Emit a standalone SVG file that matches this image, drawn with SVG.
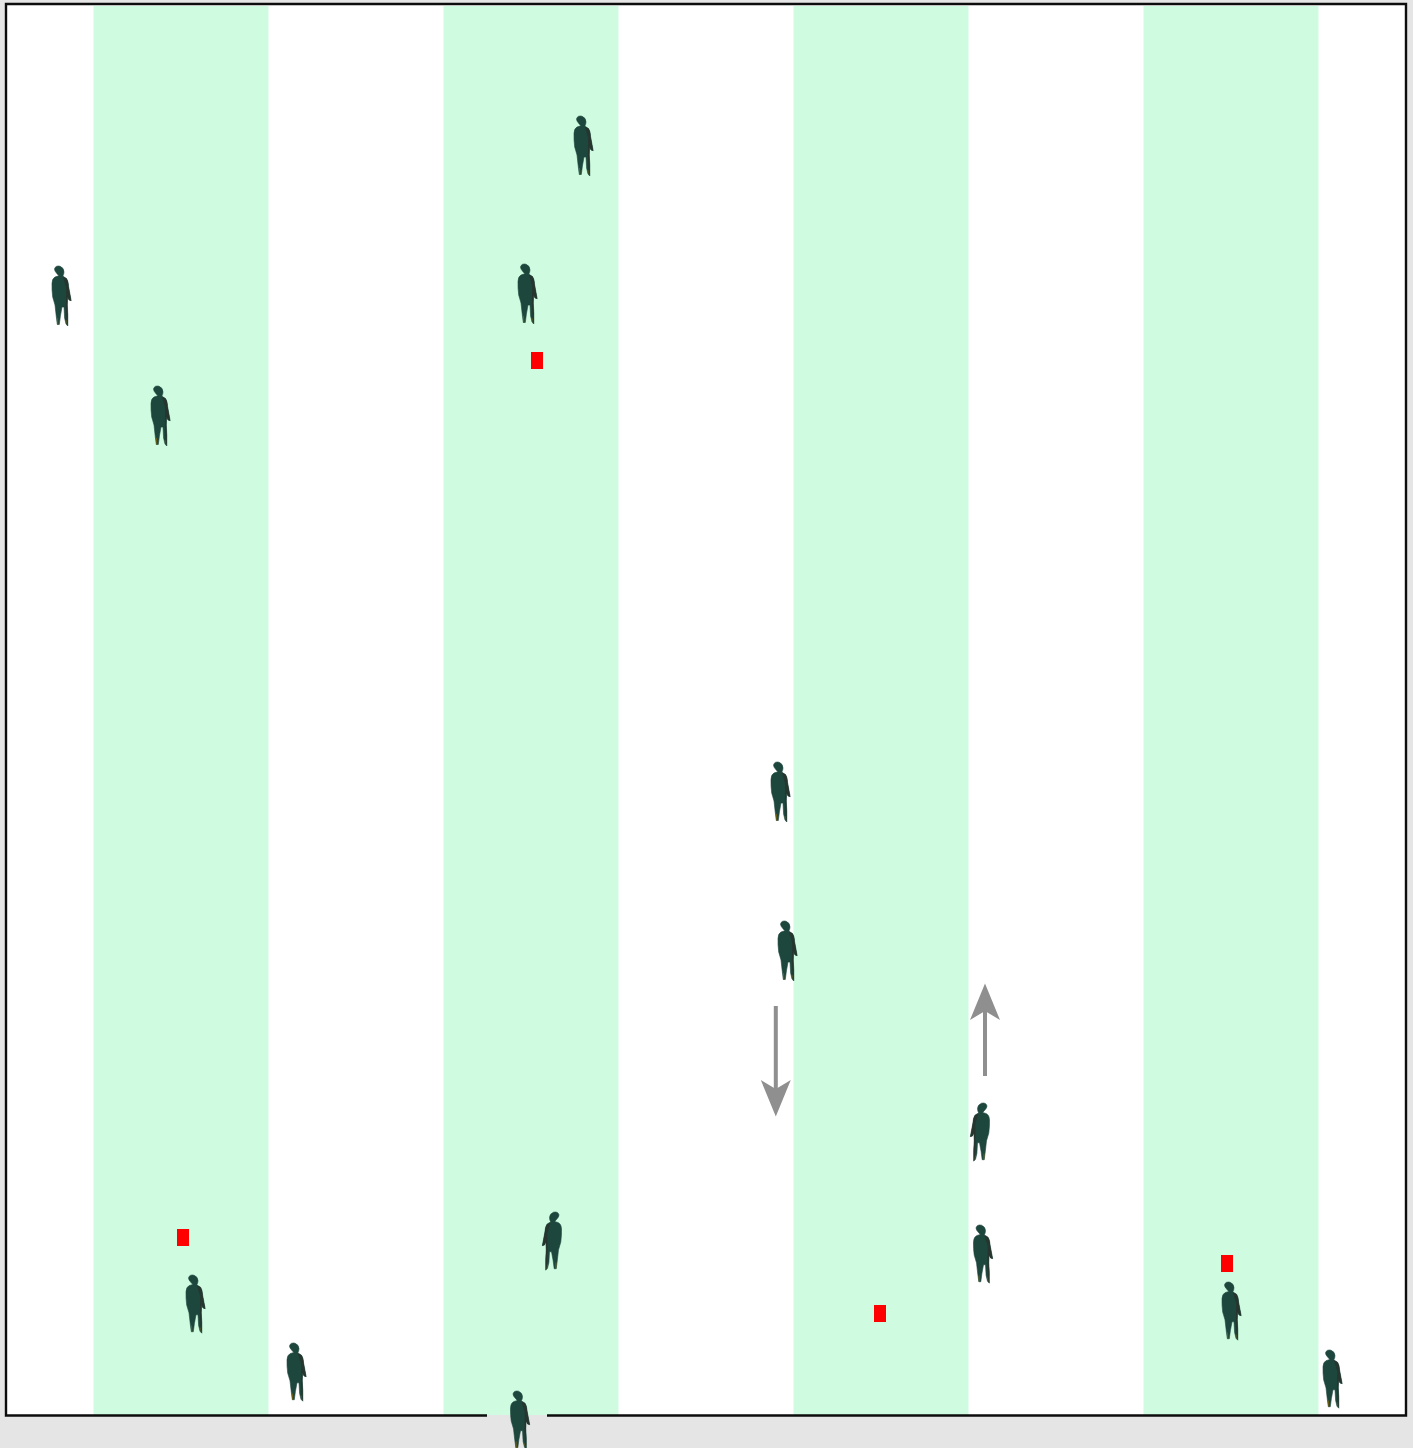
<svg xmlns="http://www.w3.org/2000/svg" width="1413" height="1448" viewBox="0 0 1413 1448">
<style>
.stripe{fill:#cffbe0}
.mark{fill:#fe0000}
.frame{fill:none;stroke:#0c0c0c;stroke-width:2.400}
.flow{fill:none;stroke:#8f8f8f;stroke-width:4;marker-end:url(#head)}
.body{fill:#1d463d;stroke:#1d463d;stroke-width:.6;stroke-linejoin:round}
.shade{fill:#26362e}
.foot{fill:#6a5c12}
</style>
<defs>
<marker id="head" markerUnits="userSpaceOnUse" markerWidth="40" markerHeight="34" refX="15" refY="16" orient="auto" viewBox="0 0 40 34">
<path d="M36.500 16L0 1L9 16L0 31Z" fill="#8f8f8f"/>
</marker>
<g id="person">
<path class="body" d="M2.500 3Q3.500 -.8 8 .2Q12 1.800 12 6Q11.800 8.800 10.800 10.200L14.500 12.500Q16.300 15 16.600 20.700L18 28.300L19.200 34.700L17 34L15.600 31L15.300 39L15.800 49L15.800 60L14 58L12.600 52L12 41L10 41L8.400 50L7.300 58.500L5.300 58.500L4.300 50.700L3 39L.7 31Q-.2 24 0 17.300Q.2 12.500 3 11L6.800 9.700L4.800 7.500Q2.500 5 2.500 3Z"/>
<path class="shade" d="M10.800 10.200L14.500 12.500Q16.300 15 16.600 20.700L18 28.300L19.200 34.700L17 34L15.600 31L15.300 39L15.800 49L15.800 60L14.600 56L13.900 40L14.200 22Z"/>
<path class="foot" d="M5 52L6 52L6.300 58.500L5.300 58.500ZM13.600 54L14.400 54L15 59.500Z"/>
</g>
</defs>
<rect width="1413" height="1448" fill="#e5e5e5"/>
<rect x="6" y="4" width="1400" height="1411" fill="#fff"/>
<g id="stripes">
<rect class="stripe" x="93.500" y="6" width="175" height="1409"/>
<rect class="stripe" x="443.500" y="6" width="175" height="1409"/>
<rect class="stripe" x="793.500" y="6" width="175" height="1409"/>
<rect class="stripe" x="1143.500" y="6" width="175" height="1409"/>
</g>
<path id="frame" class="frame" d="M487 1415.500H6V4H1406V1415.500H547"/>
<g id="markers">
<rect id="mark-1" class="mark" x="531" y="352" width="12" height="17"/>
<rect id="mark-2" class="mark" x="177" y="1229" width="12" height="17"/>
<rect id="mark-3" class="mark" x="874" y="1305" width="12" height="17"/>
<rect id="mark-4" class="mark" x="1221" y="1255" width="12" height="17"/>
</g>
<g id="connectors">
<path class="flow" d="M775.800 1006V1095"/>
<path class="flow" d="M985 1076V1005"/>
</g>
<g id="person-1"><use href="#person" x="52" y="266"/></g>
<g id="person-2"><use href="#person" x="151" y="386"/></g>
<g id="person-3"><use href="#person" x="574" y="116"/></g>
<g id="person-4"><use href="#person" x="518" y="264"/></g>
<g id="person-5"><use href="#person" x="771" y="762"/></g>
<g id="person-6"><use href="#person" x="778" y="921"/></g>
<g id="person-7"><use href="#person" transform="translate(989.500 1103) scale(-1 .97)"/></g>
<g id="person-8"><use href="#person" transform="translate(973.500 1225) scale(1 .97)"/></g>
<g id="person-9"><use href="#person" transform="translate(561.500 1212) scale(-1 .97)"/></g>
<g id="person-10"><use href="#person" transform="translate(186 1275) scale(1 .97)"/></g>
<g id="person-11"><use href="#person" transform="translate(287 1343) scale(1 .97)"/></g>
<g id="person-12"><use href="#person" transform="translate(510.500 1391) scale(1 .97)"/></g>
<g id="person-13"><use href="#person" transform="translate(1222 1282) scale(1 .97)"/></g>
<g id="person-14"><use href="#person" transform="translate(1323 1350) scale(1 .97)"/></g>
</svg>
